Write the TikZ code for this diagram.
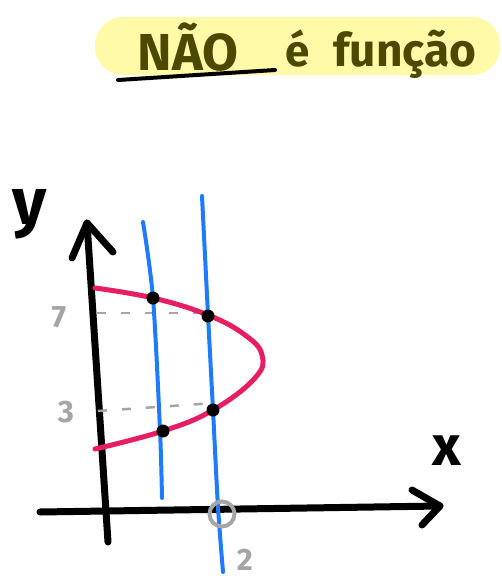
\documentclass[tikz,border=0pt]{standalone}
\usepackage{fontspec}
\setmainfont{Fira Sans}
\usepackage{tikz}
\usetikzlibrary{calc}
\definecolor{marca}{RGB}{255,250,168}
\definecolor{oliva}{RGB}{76,72,0}
\definecolor{rosa}{RGB}{232,30,100}
\definecolor{azul}{RGB}{30,122,255}
\definecolor{cinza}{RGB}{165,165,165}

\begin{document}
\begin{tikzpicture}[x=1pt,y=-1pt,
        axis/.style={line width=7pt,line cap=round,line join=round},
        curva/.style={rosa,line width=5pt,line cap=round},
        vertical/.style={azul,line width=4pt,line cap=round},
        guia/.style={cinza,line width=2.5pt,dash pattern=on 9pt off 15pt},
        num/.style={cinza,font=\fontsize{31}{36}\selectfont\bfseries},
        titulo/.style={oliva,inner sep=0pt,anchor=base}]
        \useasboundingbox (0,0) rectangle (502,579);

        % Titulo com marca-texto
        \fill[marca,rounded corners=28pt] (95,17) rectangle (500,75);
        \node[titulo,font=\fontsize{52}{60}\selectfont\bfseries] (nao) at (188,70) {NÃO};
        \node[titulo,font=\fontsize{44}{50}\selectfont\bfseries] (e) at (298,66) {é};
        \node[titulo,font=\fontsize{46}{52}\selectfont\bfseries] (funcao) at (405,66) {função};
        \draw[line width=4pt,line cap=round] (118,80) -- (275,70);

        % Eixos: Y de baixo para cima, X da esquerda para a direita
        \coordinate (Yb) at (108,542);
        \coordinate (Yt) at (87,223);
        \coordinate (Xl) at (40,512);
        \coordinate (Xr) at (440,506);

        \draw[axis] (Yb) -- (Yt);
        \draw[axis] (72,258) -- (Yt) -- (113,252);
        \draw[axis] (Xl) -- (Xr);
        \draw[axis] (412,490) -- (Xr) -- (422,525);

        \node[font=\fontsize{66}{72}\selectfont\bfseries] (lbly) at (30,214) {y};
        \node[font=\fontsize{56}{60}\selectfont\bfseries] (lblx) at (447,451) {x};

        % Linhas guia para 7 e 3
        \draw[guia] (97,313) -- (208,313);
        \draw[guia] (98,411) -- (215,403);

        % Parabola deitada
        \draw[curva] plot[smooth,tension=0.7] coordinates {(95,288) (153,298) (208,315)
            (245,335) (262,355) (255,378) (213,410) (163,431) (95,449)};

        % Retas verticais
        \draw[vertical] plot[smooth] coordinates {(143,222) (153,298) (160,430) (162,498)};
        \draw[vertical] plot[smooth] coordinates {(202,196) (208,315) (213,410) (218,507) (223,572)};

        % Pontos de corte
        \coordinate (P1) at (153,298);
        \coordinate (P2) at (208,316);
        \coordinate (P3) at (163,431);
        \coordinate (P4) at (213,410);
        \foreach \p in {P1,P2,P3,P4}
            \fill (\p) circle (6.5);

        % x = 2 no eixo
        \draw[cinza,line width=4pt] (222,514) circle (12.5);

        \node[num] (n7) at (59,317) {7};
        \node[num] (n3) at (66,412) {3};
        \node[num] (n2) at (245,560) {2};
    \end{tikzpicture}
\end{document}
